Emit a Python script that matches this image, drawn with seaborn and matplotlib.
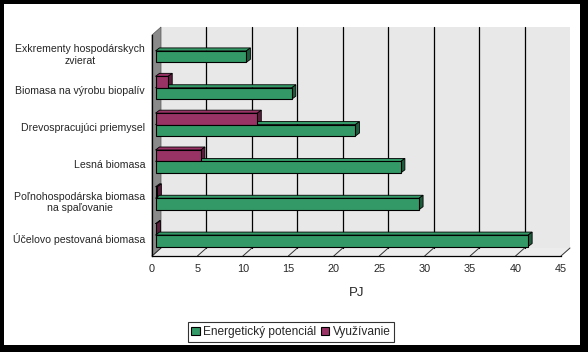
import numpy as np
import pandas as pd
import matplotlib
matplotlib.use('Agg')
import matplotlib.pyplot as plt
from matplotlib.patches import Polygon, Rectangle, Patch
import seaborn as sns

categories = ['Exkrementy hospodárskych\nzvierat', 'Biomasa na výrobu biopalív',
              'Drevospracujúci priemysel', 'Lesná biomasa',
              'Poľnohospodárska biomasa\nna spaľovanie', 'Účelovo pestovaná biomasa']
potencial = [10.0, 15.0, 22.0, 27.0, 29.0, 41.0]
vyuzivanie = [0.0, 1.4, 11.2, 5.0, 0.2, 0.1]
series = ['Energetický potenciál', 'Využívanie']
colors = {'Energetický potenciál': '#339966', 'Využívanie': '#993366'}
dark = {'Energetický potenciál': '#1d5c3c', 'Využívanie': '#5c1d3c'}
xticks = list(range(0, 50, 5))

df = pd.DataFrame({
    'kat': categories * 2,
    'PJ': potencial + vyuzivanie,
    'seria': [series[0]] * 6 + [series[1]] * 6,
})

sns.set_style('white')
plt.rcParams['font.family'] = ['Liberation Sans', 'DejaVu Sans']

W_PX, H_PX = 588, 352
fig = plt.figure(figsize=(W_PX / 100, H_PX / 100), dpi=100)
fig.patch.set_facecolor('black')
fig.add_artist(Rectangle((4 / W_PX, 7 / H_PX), 576 / W_PX, 341 / H_PX,
                         transform=fig.transFigure, facecolor='white', edgecolor='none', zorder=-10))

ax_l, ax_r, ax_t, ax_b = 152, 561, 35, 256
ax = fig.add_axes([ax_l / W_PX, 1 - ax_b / H_PX, (ax_r - ax_l) / W_PX, (ax_b - ax_t) / H_PX])
ax.set_facecolor('none')

# purple on top inside each group
sns.barplot(data=df, y='kat', x='PJ', hue='seria', hue_order=[series[1], series[0]],
            palette=colors, orient='h', width=0.62, edgecolor='black', linewidth=0.8,
            saturation=1, legend=False, ax=ax, zorder=5)

xmax = 45
ax.set_xlim(0, xmax)
ax.set_ylim(len(categories) - 0.5, -0.5)
sx = (ax_r - ax_l) / xmax
sy = (ax_b - ax_t) / len(categories)


def sh(x, y, dx, dy):
    # shift a data point by pixels (dy up)
    return (x + dx / sx, y - dy / sy)


# 3D walls
wx, wy = 9, 8
y_lo, y_hi = len(categories) - 0.5, -0.5
back = [sh(0, y_lo, wx, wy), sh(xmax, y_lo, wx, wy), sh(xmax, y_hi, wx, wy), sh(0, y_hi, wx, wy)]
ax.add_patch(Polygon(back, closed=True, facecolor='#e8e8e8', edgecolor='none', clip_on=False, zorder=0))
floor = [(0, y_lo), (xmax, y_lo), sh(xmax, y_lo, wx, wy), sh(0, y_lo, wx, wy)]
ax.add_patch(Polygon(floor, closed=True, facecolor='#ececec', edgecolor='none', clip_on=False, zorder=0.5))
left = [(0, y_hi), (0, y_lo), sh(0, y_lo, wx, wy), sh(0, y_hi, wx, wy)]
ax.add_patch(Polygon(left, closed=True, facecolor='#8a8a8a', edgecolor='#555555', lw=0.5,
                     clip_on=False, zorder=1))
for v in xticks:
    if 0 < v < xmax:
        p0, p1 = sh(v, y_lo, wx, wy), sh(v, y_hi, wx, wy)
        ax.plot([p0[0], p1[0]], [p0[1], p1[1]], color='black', lw=0.9, clip_on=False, zorder=1)
    p2 = sh(v, y_lo, wx, wy)
    ax.plot([v, p2[0]], [y_lo, p2[1]], color='#333333', lw=0.7, clip_on=False, zorder=1)

# 3D bars
off_x, off_y = 3.5, 2.5
dx, dy = 4, 3
bars = [p for p in ax.patches if isinstance(p, Rectangle) and p.get_zorder() == 5]
for p in bars:
    x0, y0, w, h = p.get_x(), p.get_y(), p.get_width(), p.get_height()
    if w <= 0:
        p.set_visible(False)
        continue
    nx, ny = sh(x0, y0, off_x, off_y)
    p.set_x(nx)
    p.set_y(ny)
    fc = p.get_facecolor()
    key = series[0] if fc[1] > fc[0] else series[1]
    top = [(nx, ny), (nx + w, ny), sh(nx + w, ny, dx, dy), sh(nx, ny, dx, dy)]
    side = [(nx + w, ny), (nx + w, ny + h), sh(nx + w, ny + h, dx, dy), sh(nx + w, ny, dx, dy)]
    ax.add_patch(Polygon(top, closed=True, facecolor=colors[key], edgecolor='black', lw=0.6,
                         clip_on=False, zorder=4))
    ax.add_patch(Polygon(side, closed=True, facecolor=dark[key], edgecolor='black', lw=0.6,
                         clip_on=False, zorder=4))

for s in ['top', 'right']:
    ax.spines[s].set_visible(False)
for s in ['left', 'bottom']:
    ax.spines[s].set_color('black')
    ax.spines[s].set_linewidth(0.9)
    ax.spines[s].set_zorder(6)

ax.set_xticks(xticks)
ax.set_xticklabels([str(v) for v in xticks], fontsize=7.8)
ax.tick_params(axis='x', direction='out', length=3, width=0.8, color='black', pad=3)
ax.set_yticks(range(len(categories)))
ax.set_yticklabels(categories, fontsize=7.6, multialignment='center')
ax.set_yticks(np.arange(-0.5, len(categories), 1), minor=True)
ax.tick_params(axis='y', which='major', length=0, pad=5)
ax.tick_params(axis='y', which='minor', direction='out', length=3, width=0.8, color='black')
ax.set_ylabel('')
ax.set_xlabel('PJ', fontsize=9.5, labelpad=9)
ax.grid(False)

handles = [Patch(facecolor=colors[s], edgecolor='black', lw=0.8) for s in series]
leg = fig.legend(handles, series, loc='center', bbox_to_anchor=(291 / W_PX, 1 - 332 / H_PX),
                 ncol=2, fontsize=8.6, frameon=True, fancybox=False, edgecolor='black',
                 handlelength=0.7, handleheight=0.7, handletextpad=0.3, columnspacing=0.4,
                 borderpad=0.3, borderaxespad=0)
leg.get_frame().set_linewidth(0.8)

fig.savefig('out.png', dpi=100, facecolor=fig.get_facecolor())
